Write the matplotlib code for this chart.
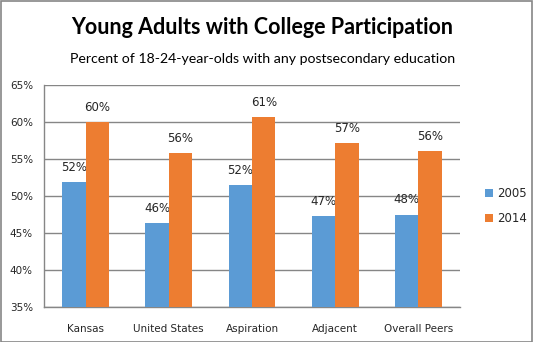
import matplotlib
matplotlib.use("Agg")
import matplotlib.pyplot as plt
import numpy as np
from matplotlib.patches import Rectangle

categories = ["Kansas", "United States", "Aspiration", "Adjacent", "Overall Peers"]
series_names = ["2005", "2014"]
values_2005 = [51.9, 46.4, 51.5, 47.3, 47.5]
values_2014 = [60.0, 55.85, 60.7, 57.2, 56.1]
yticks = [35, 40, 45, 50, 55, 60, 65]

colors = ["#5B9BD5", "#ED7D31"]
grid_color = "#868686"
text_color = "#262626"

plt.rcParams['font.family'] = ['Lato', 'DejaVu Sans']

W, H = 533, 342
fig = plt.figure(figsize=(W / 100, H / 100), dpi=100)
ax = fig.add_axes([44 / W, 1 - 307.3 / H, (460 - 44) / W, (307.3 - 85.3) / H])

x = np.arange(len(categories))
bw = 0.281
for i, (vals, name, c) in enumerate(zip([values_2005, values_2014], series_names, colors)):
    pos = x + (i - 0.5) * bw
    bars = ax.bar(pos, vals, width=bw, color=c, label=name, zorder=3)
    for b, v in zip(bars, vals):
        ax.annotate(f"{round(v):.0f}%", (b.get_x() + b.get_width() / 2, v),
                    xytext=(0, 6), textcoords="offset points", ha="center", va="bottom",
                    fontsize=8.5, color=text_color, family=['DejaVu Sans'])

ax.set_ylim(35, 65)
ax.set_xlim(-0.5, len(categories) - 0.5)
ax.set_yticks(yticks)
ax.set_yticklabels([f"{t}%" for t in yticks], fontsize=7.5, color=text_color, family=['DejaVu Sans'])
ax.set_xticks(x)
ax.set_xticklabels(categories, fontsize=7.5, color=text_color, family=['DejaVu Sans'])
ax.tick_params(axis='both', length=0, pad=8)
ax.tick_params(axis='x', pad=12)
ax.grid(axis='y', color=grid_color, linewidth=1, zorder=0)
for s in ["top", "right"]:
    ax.spines[s].set_visible(False)
for s in ["left", "bottom"]:
    ax.spines[s].set_color(grid_color)
    ax.spines[s].set_linewidth(1)

leg = ax.legend(loc="center left", bbox_to_anchor=(1.035, 0.455), frameon=False,
                handlelength=0.7, handleheight=0.7, handletextpad=0.3, labelspacing=1.0,
                prop={'family': 'DejaVu Sans', 'size': 8.5})
for t in leg.get_texts():
    t.set_color(text_color)

fig.text(0.492, 1 - 28 / H, "Young Adults with College Participation", ha="center", va="center",
         fontsize=15.5, fontweight="bold", color="black")
fig.text(0.492, 1 - 59 / H, "Percent of 18-24-year-olds with any postsecondary education", ha="center",
         va="center", fontsize=10.2, color="black")

fig.patches.append(Rectangle((0.5 / W, 0.5 / H), 1 - 1.5 / W, 1 - 1.5 / H, transform=fig.transFigure,
                             fill=False, edgecolor="#868686", linewidth=1.2))

fig.savefig("out.png", dpi=100)
